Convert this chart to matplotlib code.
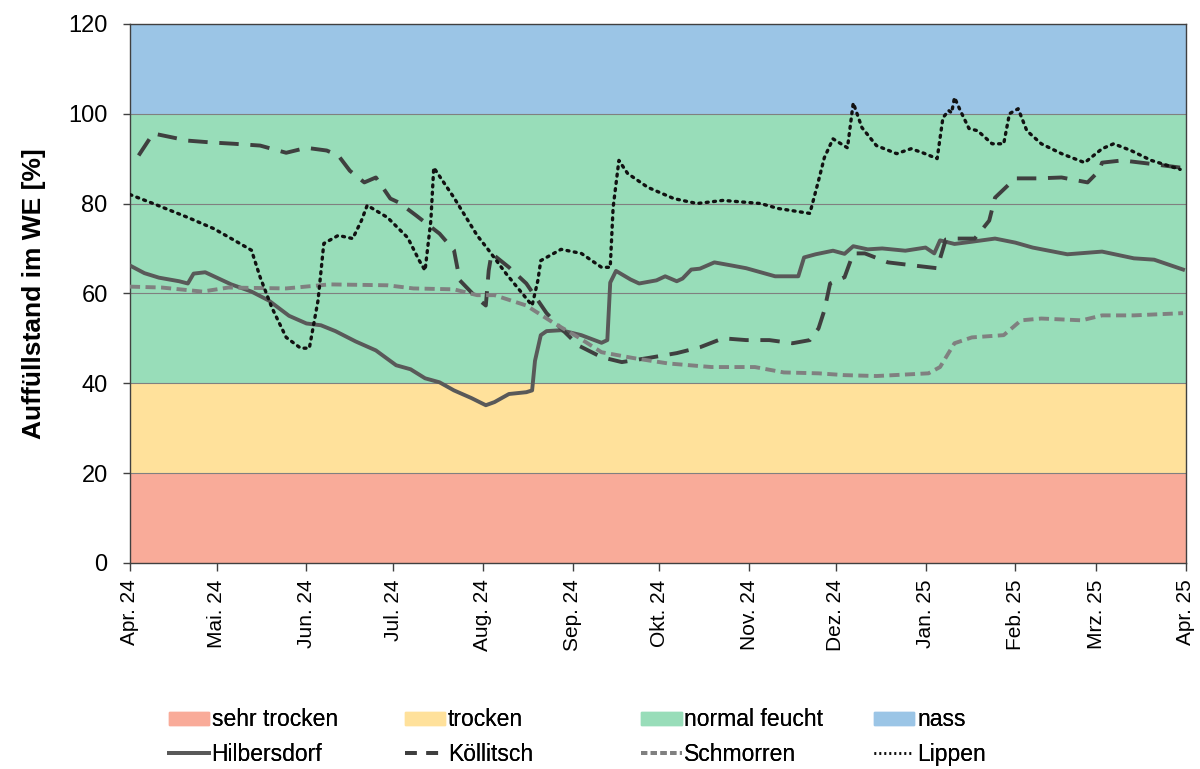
import datetime as dt
import matplotlib
matplotlib.use("Agg")
import matplotlib.pyplot as plt
import matplotlib.dates as mdates
from matplotlib.patches import Patch
from matplotlib.lines import Line2D

plt.rcParams['font.family'] = ['Liberation Sans', 'DejaVu Sans']

START = dt.date(2024, 4, 1)

# band limits and colours (Bodenfeuchteklassen)
band_names = ["sehr trocken", "trocken", "normal feucht", "nass"]
band_lo = [0, 20, 40, 100]
band_hi = [20, 40, 100, 120]
band_colors = ["#F9AB99", "#FFE19B", "#98DDB9", "#9BC5E6"]

# days since 1 Apr 2024 / filling level in %
hilb_days = [0, 5, 10, 17, 20, 22, 26, 29, 35, 42, 48, 55, 61, 66, 71, 78, 85, 92, 97, 102,
             107, 112, 118, 123, 126, 131, 137, 139, 140, 142, 144, 149, 156, 163, 165, 166, 168, 173, 176, 182,
             185, 189, 191, 194, 197, 202, 208, 213, 218, 223, 231, 233, 237, 243, 247, 250, 255, 260, 268, 275,
             278, 280, 285, 291, 299, 306, 312, 324, 336, 347, 354, 364]
hilb_vals = [66.2, 64.5, 63.5, 62.7, 62.2, 64.4, 64.7, 63.8, 62.0, 60.4, 58.4, 55.0, 53.3, 52.9, 51.6, 49.3, 47.3, 44.0, 43.1, 41.1,
             40.2, 38.4, 36.7, 35.1, 35.8, 37.6, 38.0, 38.4, 45.0, 50.7, 51.6, 51.8, 50.7, 49.0, 49.6, 62.4, 65.0, 63.1, 62.2, 62.9,
             63.8, 62.7, 63.3, 65.3, 65.5, 66.9, 66.2, 65.6, 64.7, 63.8, 63.8, 68.0, 68.7, 69.5, 68.8, 70.5, 69.8, 70.0, 69.5, 70.2,
             68.9, 71.8, 71.0, 71.5, 72.2, 71.3, 70.2, 68.7, 69.3, 67.8, 67.5, 65.3]

koel_days = [3, 8, 20, 28, 36, 45, 54, 61, 68, 72, 76, 81, 85, 90, 93, 99, 107, 112, 114, 120,
             123, 124, 125, 131, 137, 144, 149, 155, 163, 170, 179, 189, 197, 205, 213, 221, 229, 235, 238, 240,
             242, 247, 250, 254, 262, 271, 279, 282, 286, 292, 297, 299, 306, 314, 322, 331, 335, 336, 343, 352, 363]
koel_vals = [90.7, 95.6, 94.0, 93.6, 93.3, 92.9, 91.3, 92.4, 91.8, 90.7, 87.3, 84.7, 85.8, 81.1, 80.2, 77.3, 73.3, 69.6, 62.9, 58.9,
             57.3, 65.1, 68.9, 65.8, 62.2, 55.6, 52.2, 48.4, 45.8, 44.7, 45.6, 46.7, 48.0, 50.0, 49.6, 49.6, 48.9, 49.6, 52.2, 56.2,
             62.2, 63.6, 68.9, 68.9, 66.9, 66.2, 65.6, 72.0, 72.2, 72.2, 76.2, 81.3, 85.6, 85.6, 85.8, 84.7, 87.3, 89.1, 89.6, 88.9, 88.0]

schm_days = [0, 11, 25, 34, 54, 69, 89, 98, 112, 120, 126, 137, 146, 155, 163, 174, 186, 201, 216, 226,
             238, 247, 258, 276, 280, 285, 291, 302, 308, 315, 329, 336, 347, 364]
schm_vals = [61.5, 61.3, 60.4, 61.3, 61.1, 62.0, 61.8, 61.1, 60.9, 59.6, 59.6, 57.3, 53.6, 50.2, 46.9, 45.6, 44.4, 43.6, 43.6, 42.4,
             42.2, 41.8, 41.6, 42.2, 43.6, 48.9, 50.2, 50.7, 54.0, 54.4, 54.0, 55.1, 55.1, 55.6]

lipp_days = [0, 8, 20, 29, 38, 42, 45, 49, 54, 59, 62, 65, 67, 72, 77, 80, 82, 89, 96, 100,
             102, 104, 105, 112, 120, 124, 130, 139, 141, 142, 149, 156, 163, 166, 167, 169, 172, 179, 188, 196,
             205, 218, 224, 235, 238, 240, 243, 248, 250, 253, 258, 265, 270, 274, 279, 281, 283, 284, 285, 287,
             290, 293, 298, 302, 304, 307, 310, 315, 322, 330, 336, 340, 346, 353, 363]
lipp_vals = [82.0, 80.0, 76.9, 74.4, 71.1, 69.6, 63.6, 56.9, 50.2, 47.8, 47.8, 58.4, 71.1, 72.9, 72.2, 76.2, 79.6, 76.9, 72.4, 67.3,
             65.1, 76.2, 88.0, 81.3, 72.9, 69.6, 64.4, 57.3, 62.9, 67.3, 69.8, 68.9, 65.8, 65.8, 79.1, 89.6, 86.7, 83.6, 81.1, 80.0,
             80.7, 80.0, 78.9, 77.8, 85.1, 90.2, 94.4, 92.4, 102.4, 96.9, 92.9, 91.1, 92.2, 91.3, 90.0, 99.1, 100.7, 100.2, 103.6, 100.7,
             96.7, 96.2, 93.3, 93.3, 100.0, 101.1, 96.2, 93.3, 91.1, 89.1, 92.2, 93.3, 91.8, 89.6, 87.6]

month_labels = ["Apr. 24", "Mai. 24", "Jun. 24", "Jul. 24", "Aug. 24", "Sep. 24", "Okt. 24",
                "Nov. 24", "Dez. 24", "Jan. 25", "Feb. 25", "Mrz. 25", "Apr. 25"]


def to_dates(days):
    return [START + dt.timedelta(days=d) for d in days]


fig = plt.figure(figsize=(12, 7.69), dpi=100)
ax = fig.add_axes([0.1083, 0.268, 0.8800, 0.701])

x0 = mdates.date2num(START)
x1 = mdates.date2num(dt.date(2025, 4, 1))
for lo, hi, col in zip(band_lo, band_hi, band_colors):
    ax.axhspan(lo, hi, color=col, lw=0, zorder=0)
for yv in [20, 40, 60, 80, 100]:
    ax.axhline(yv, color="#808080", lw=0.8, zorder=1)

koel_ls = (0, (5, 3))
schm_ls = (0, (2.6, 1.4))
lipp_ls = (0, (0.6, 1.6))

ax.plot(to_dates(hilb_days), hilb_vals, color="#595959", lw=2.8, zorder=3)
ax.plot(to_dates(koel_days), koel_vals, color="#3F3F3F", lw=2.8, ls=koel_ls, zorder=3)
ax.plot(to_dates(schm_days), schm_vals, color="#808080", lw=2.8, ls=schm_ls, zorder=3)
ax.plot(to_dates(lipp_days), lipp_vals, color="#111111", lw=2.4, ls=lipp_ls,
        dash_capstyle="round", zorder=4)

ax.set_xlim(x0, x1)
ax.set_ylim(0, 120)
ax.set_yticks(range(0, 121, 20))
ticks = [dt.date(2024 + (3 + i) // 12, (3 + i) % 12 + 1, 1) for i in range(13)]
ax.set_xticks(ticks)
ax.set_xticklabels(month_labels, rotation=90, ha="center", va="top")
ax.tick_params(axis="y", labelsize=17, length=5, width=1, color="#404040", pad=11)
ax.tick_params(axis="x", labelsize=15, length=6, width=1, color="#404040", pad=6)
for s in ax.spines.values():
    s.set_color("#404040")
    s.set_linewidth(1)
ax.set_ylabel("Auffüllstand im WE [%]", fontsize=19, fontweight="bold", labelpad=16)

# legend: four columns placed like the original
line_handles = [
    Line2D([], [], color="#595959", lw=2.8),
    Line2D([], [], color="#3F3F3F", lw=2.8, ls=(0, (3, 2.5))),
    Line2D([], [], color="#808080", lw=2.8, ls=(0, (1.6, 0.9))),
    Line2D([], [], color="#111111", lw=2.0, ls=(0, (0.6, 1.2))),
]
line_names = ["Hilbersdorf", "Köllitsch", "Schmorren", "Lippen"]
col_x = [0.131, 0.328, 0.525, 0.719]
for i in range(4):
    leg = fig.legend([Patch(color=band_colors[i]), line_handles[i]],
                     [band_names[i], line_names[i]],
                     loc="upper left", bbox_to_anchor=(col_x[i], 0.094),
                     frameon=False, fontsize=16.5, handlelength=1.75, handleheight=0.5,
                     handletextpad=0.12, labelspacing=0.5, borderpad=0)
    fig.add_artist(leg)

fig.savefig("out.png", dpi=100)
